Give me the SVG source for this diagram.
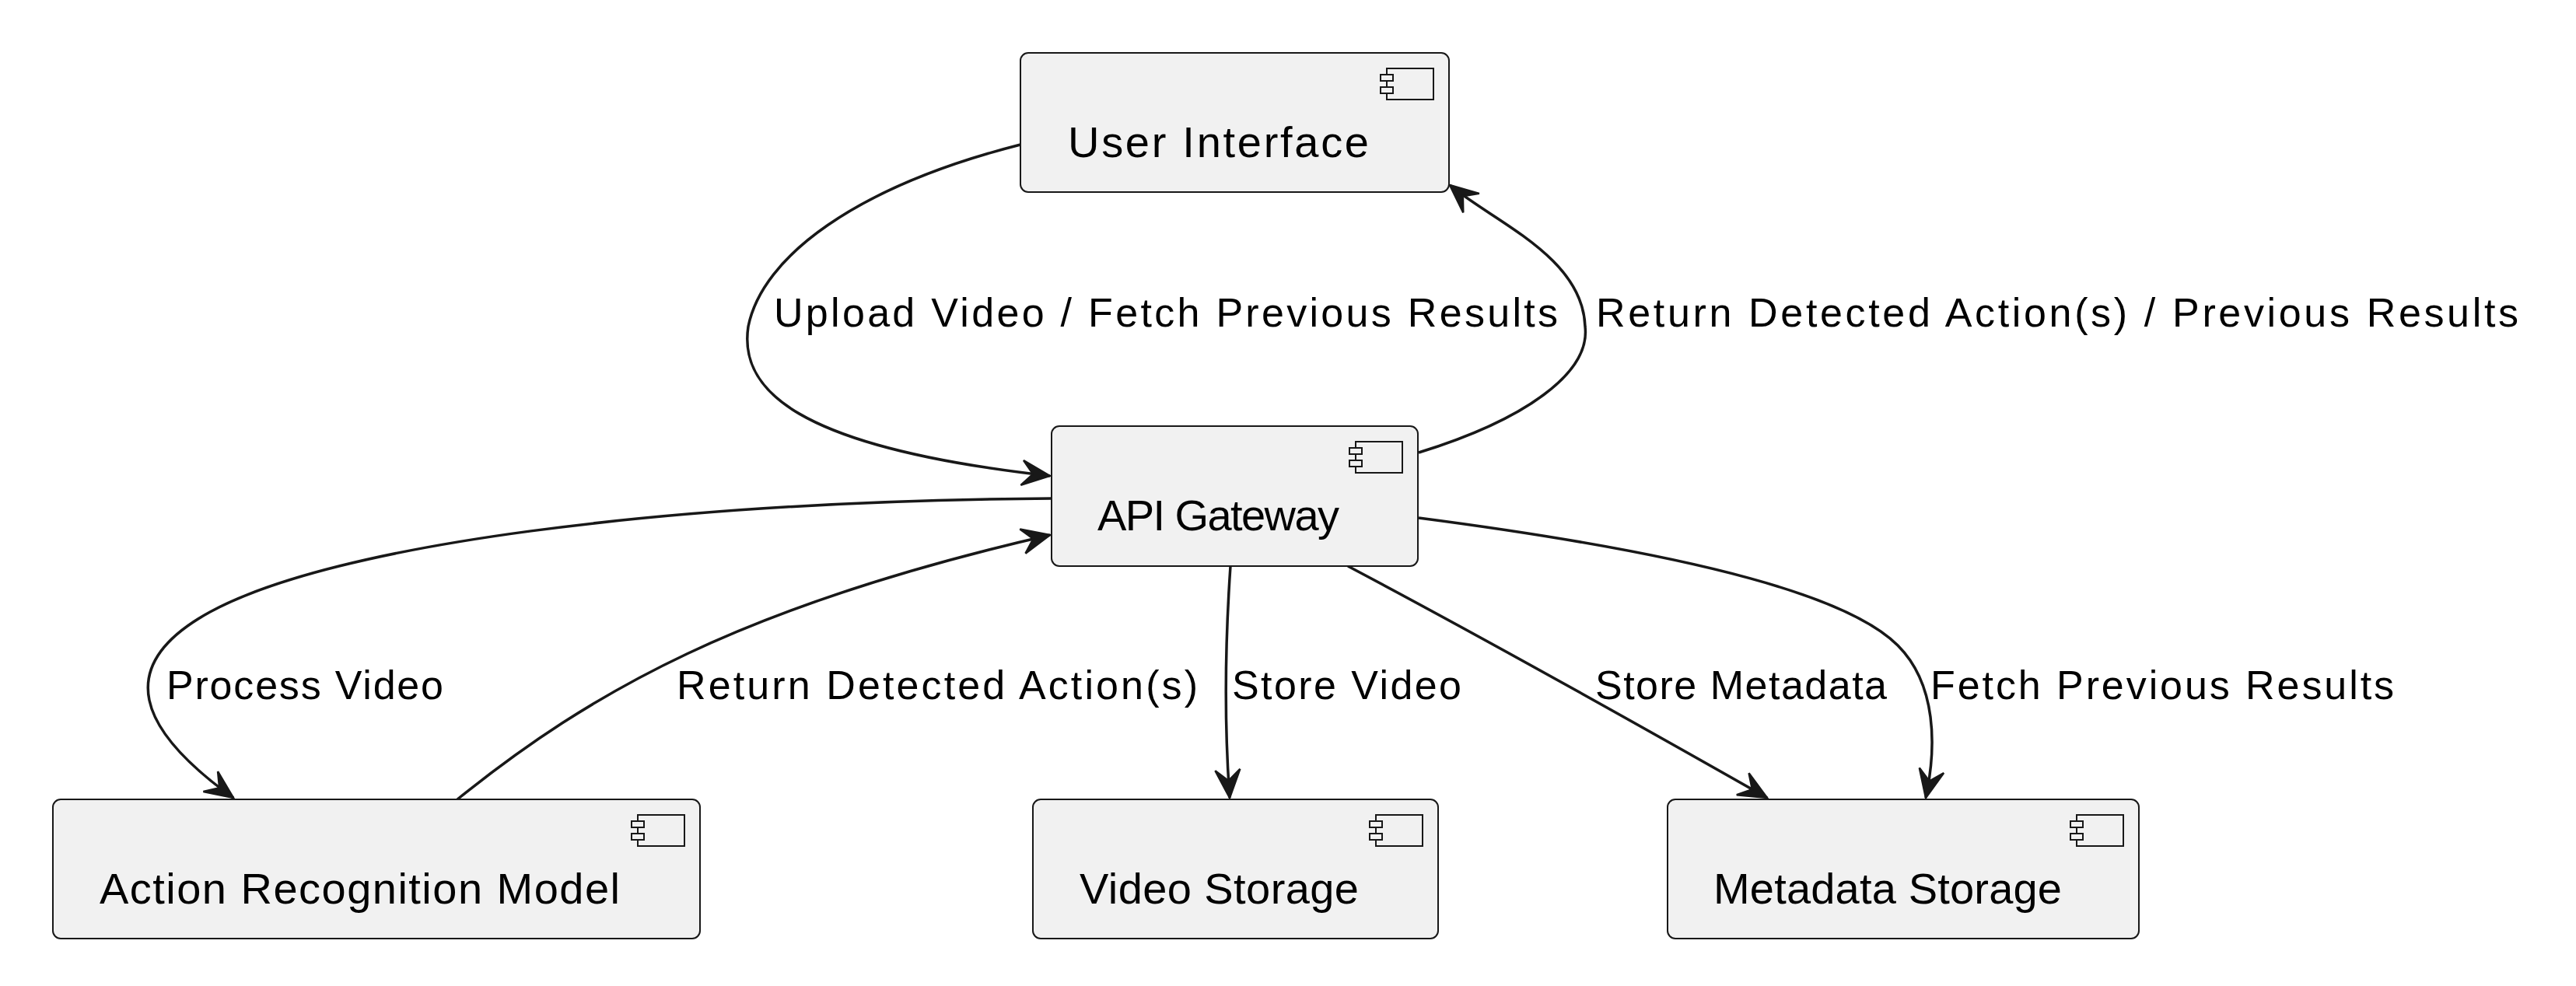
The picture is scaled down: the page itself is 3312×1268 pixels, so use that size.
<svg xmlns="http://www.w3.org/2000/svg" width="3312" height="1268" viewBox="0 0 3312 1268">
<style>
.box{fill:#F1F1F1;stroke:#181818;stroke-width:2}
.icon{fill:#F1F1F1;stroke:#181818;stroke-width:2}
.ntext{font-family:"Liberation Sans",Arial,sans-serif;font-size:56px;fill:#000}
.ltext{font-family:"Liberation Sans",Arial,sans-serif;font-size:52px;fill:#000}
.edge{fill:none;stroke:#181818;stroke-width:3.5;marker-end:url(#arr)}
</style>
<defs>
<marker id="arr" markerUnits="userSpaceOnUse" viewBox="-42 -22 46 44" refX="0" refY="0" markerWidth="46" markerHeight="44" orient="auto" overflow="visible">
<path d="M0,0 L-36,-16 L-22,0 L-36,16 Z" fill="#181818" stroke="#181818" stroke-width="2.5" stroke-linejoin="miter"/>
</marker>
</defs>
<rect width="3312" height="1268" fill="#FFFFFF"/>

<g id="connectors">
<path class="edge" d="M1312,186 C1100,240 980,330 962,420 C950,500 1020,575 1350,612"/>
<path class="edge" d="M1824,582 C1960,540 2045,480 2038,420 C2035,330 1920,285 1864,238"/>
<path class="edge" d="M1352,641 C850,645 430,700 270,787 C142,857 180,940 300,1026"/>
<path class="edge" d="M588,1028 C760,890 950,780 1350,688"/>
<path class="edge" d="M1582,728 C1575,830 1574,930 1581,1026"/>
<path class="edge" d="M1733,728 C1850,790 2050,900 2272,1026"/>
<path class="edge" d="M1824,666 C2200,715 2380,770 2440,830 C2490,880 2490,960 2476,1026"/>
<text class="ltext" x="995" y="420" textLength="1008" lengthAdjust="spacing">Upload Video / Fetch Previous Results</text>
<text class="ltext" x="2052" y="420" textLength="1186" lengthAdjust="spacing">Return Detected Action(s) / Previous Results</text>
<text class="ltext" x="214" y="899" textLength="356" lengthAdjust="spacing">Process Video</text>
<text class="ltext" x="870" y="899" textLength="670" lengthAdjust="spacing">Return Detected Action(s)</text>
<text class="ltext" x="1584" y="899" textLength="295" lengthAdjust="spacing">Store Video</text>
<text class="ltext" x="2051" y="899" textLength="375" lengthAdjust="spacing">Store Metadata</text>
<text class="ltext" x="2482" y="899" textLength="596" lengthAdjust="spacing">Fetch Previous Results</text>
</g>

<g id="user_interface">
<rect class="box" x="1312" y="68" width="551" height="179" rx="10"/>
<rect class="icon" x="1783" y="88" width="60" height="40"/>
<rect class="icon" x="1775" y="96" width="16" height="8"/>
<rect class="icon" x="1775" y="112" width="16" height="8"/>
<text class="ntext" x="1373" y="202" textLength="387" lengthAdjust="spacing">User Interface</text>
</g>

<g id="api_gateway">
<rect class="box" x="1352" y="548" width="471" height="180" rx="10"/>
<rect class="icon" x="1743" y="568" width="60" height="40"/>
<rect class="icon" x="1735" y="576" width="16" height="8"/>
<rect class="icon" x="1735" y="592" width="16" height="8"/>
<text class="ntext" x="1411" y="682" textLength="311" lengthAdjust="spacing">API Gateway</text>
</g>

<g id="action_recognition_model">
<rect class="box" x="68" y="1028" width="832" height="179" rx="10"/>
<rect class="icon" x="820" y="1048" width="60" height="40"/>
<rect class="icon" x="812" y="1056" width="16" height="8"/>
<rect class="icon" x="812" y="1072" width="16" height="8"/>
<text class="ntext" x="128" y="1162" textLength="669" lengthAdjust="spacing">Action Recognition Model</text>
</g>

<g id="video_storage">
<rect class="box" x="1328" y="1028" width="521" height="179" rx="10"/>
<rect class="icon" x="1769" y="1048" width="60" height="40"/>
<rect class="icon" x="1761" y="1056" width="16" height="8"/>
<rect class="icon" x="1761" y="1072" width="16" height="8"/>
<text class="ntext" x="1388" y="1162" textLength="359" lengthAdjust="spacing">Video Storage</text>
</g>

<g id="metadata_storage">
<rect class="box" x="2144" y="1028" width="606" height="179" rx="10"/>
<rect class="icon" x="2670" y="1048" width="60" height="40"/>
<rect class="icon" x="2662" y="1056" width="16" height="8"/>
<rect class="icon" x="2662" y="1072" width="16" height="8"/>
<text class="ntext" x="2203" y="1162" textLength="448" lengthAdjust="spacing">Metadata Storage</text>
</g>
</svg>
